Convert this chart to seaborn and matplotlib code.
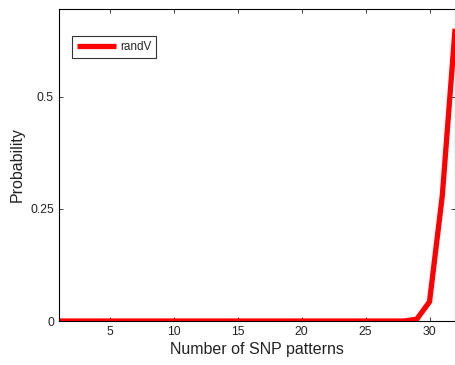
import numpy as np
import pandas as pd
import matplotlib
matplotlib.use("Agg")
import matplotlib.pyplot as plt
import seaborn as sns

# number of SNP patterns and probability
n_patterns = list(range(1, 33))
probability = [0.0] * 28 + [0.004, 0.043, 0.28, 0.652]

sns.set_style("ticks")
plt.rcParams['font.family'] = ['Liberation Sans', 'DejaVu Sans']

df = pd.DataFrame({"n": n_patterns, "p": probability, "series": "randV"})

fig = plt.figure(figsize=(4.56, 3.65), dpi=100)
ax = fig.add_axes([0.129, 0.1205, 0.869, 0.8547])
sns.lineplot(data=df, x="n", y="p", hue="series", palette=["#ff0000"],
             linewidth=3.8, ax=ax)
for ln in ax.get_lines():
    ln.set_solid_capstyle("butt")
    ln.set_solid_joinstyle("miter")

ax.set_xlim(1, 32)
ax.set_ylim(0, 0.696)
ax.set_xticks([5, 10, 15, 20, 25, 30])
ax.set_yticks([0, 0.25, 0.5])
ax.set_yticklabels(["0", "0.25", "0.5"])
ax.tick_params(direction="in", top=True, right=True, labelsize=8.8,
               length=3, width=0.6, colors="#222222")
for s in ax.spines.values():
    s.set_visible(True)
    s.set_linewidth(0.8)
    s.set_color("black")
ax.set_xlabel("Number of SNP patterns", fontsize=11.5, labelpad=3, color="#222222")
ax.set_ylabel("Probability", fontsize=11.5, labelpad=4, color="#222222")

leg = ax.legend(loc="upper left", bbox_to_anchor=(0.033, 0.913), fontsize=8.5,
                handlelength=3.3, frameon=True, fancybox=False,
                borderpad=0.4, handletextpad=0.4, borderaxespad=0)
leg.get_frame().set_edgecolor("black")
leg.get_frame().set_linewidth(0.8)
for h in leg.get_lines():
    h.set_solid_capstyle("butt")

fig.savefig("out.png", dpi=100)
